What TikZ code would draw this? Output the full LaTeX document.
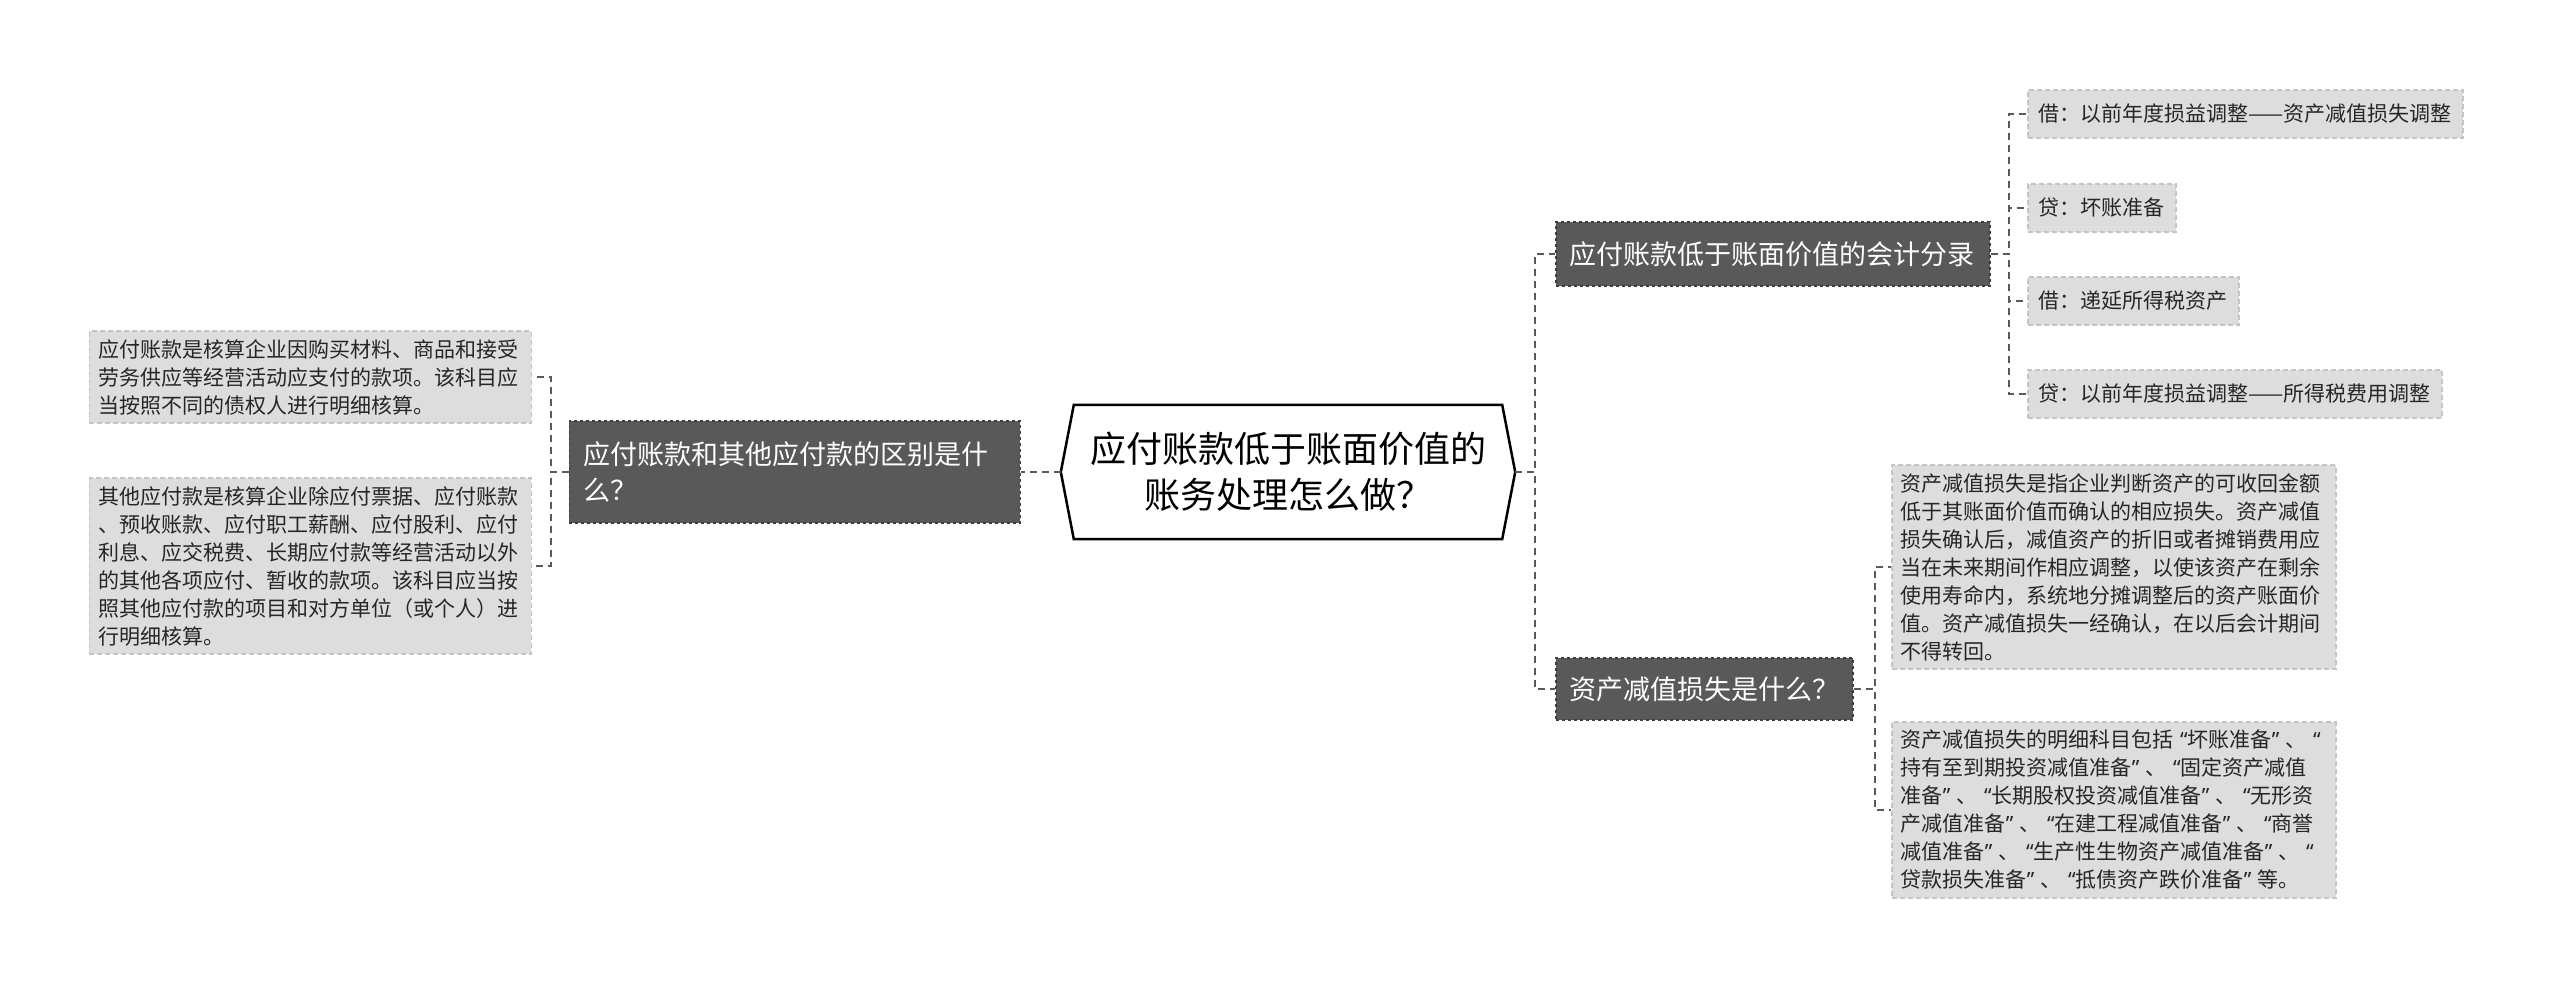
\documentclass[tikz,border=0pt]{standalone}
\usepackage{fontspec}
\newfontfamily\cjk{Noto Sans CJK SC}
\newfontfamily\latin{Noto Sans}
\newcommand\oquo{\makebox[14pt][r]{\latin “}}
\newcommand\cquo{\makebox[14pt][l]{\latin ”}}

\definecolor{branchgray}{HTML}{595959}
\definecolor{branchline}{HTML}{3F3F3F}
\definecolor{leafgray}{HTML}{DDDDDD}
\definecolor{leafline}{HTML}{C4C4C4}
\definecolor{linkgray}{HTML}{5A5A5A}

\begin{document}
\begin{tikzpicture}[x=1pt, y=-1pt,
        rootbox/.style={font=\cjk\fontsize{36}{46}\selectfont, align=center,
                minimum width=428pt, minimum height=134pt, inner sep=0pt},
        rootline/.style={draw=black, line width=2.5pt, fill=white},
        branch/.style={draw=branchline, dashed, line width=1.5pt, fill=branchgray,
                text=white, font=\cjk\fontsize{27}{36}\selectfont, align=left,
                inner xsep=14pt, inner ysep=10pt},
        leaf/.style={draw=leafline, dash pattern=on 5pt off 3pt, line width=1.5pt,
                fill=leafgray, text=black!85, font=\cjk\fontsize{21}{28}\selectfont,
                align=left, inner xsep=9pt, inner ysep=8pt},
        link/.style={draw=linkgray, line width=2pt, dash pattern=on 7pt off 5pt}
    ]
    \useasboundingbox (0,0) rectangle (2560,993);

    % root
    \node[rootbox] (root) at (1288,472) {};
    \draw[rootline] ([xshift=-13pt]root.west) -- (root.north west) -- (root.north east)
        -- ([xshift=13pt]root.east) -- (root.south east) -- (root.south west) -- cycle;
    \node[rootbox] at (root.center) {应付账款低于账面价值的\\账务处理怎么做？};

    % branches
    \node[branch, text width=423pt, minimum height=102pt, anchor=east] (diff) at (1021,472)
        {应付账款和其他应付款的区别是什\\么？};
    \node[branch, text width=406pt, minimum height=64pt, anchor=west] (acct) at (1555,254)
        {应付账款低于账面价值的会计分录};
    \node[branch, text width=269pt, minimum height=62pt, anchor=west] (loss) at (1555,689)
        {资产减值损失是什么？};

    % left leaves
    \node[leaf, text width=424pt, anchor=east] (def1) at (532,377)
        {应付账款是核算企业因购买材料、商品和接受\\劳务供应等经营活动应支付的款项。该科目应\\当按照不同的债权人进行明细核算。};
    \node[leaf, text width=424pt, anchor=east] (def2) at (532,566)
        {其他应付款是核算企业除应付票据、应付账款\\、预收账款、应付职工薪酬、应付股利、应付\\利息、应交税费、长期应付款等经营活动以外\\的其他各项应付、暂收的款项。该科目应当按\\照其他应付款的项目和对方单位（或个人）进\\行明细核算。};

    % entries
    \node[leaf, inner xsep=11pt, minimum height=48pt, anchor=west] (ent1) at (2027,114) {借：以前年度损益调整——资产减值损失调整};
    \node[leaf, inner xsep=11pt, minimum height=48pt, anchor=west] (ent2) at (2027,208) {贷：坏账准备};
    \node[leaf, inner xsep=11pt, minimum height=48pt, anchor=west] (ent3) at (2027,301) {借：递延所得税资产};
    \node[leaf, inner xsep=11pt, minimum height=48pt, anchor=west] (ent4) at (2027,394) {贷：以前年度损益调整——所得税费用调整};

    % loss leaves
    \node[leaf, text width=426pt, anchor=west] (loss1) at (1891,567)
        {资产减值损失是指企业判断资产的可收回金额\\低于其账面价值而确认的相应损失。资产减值\\损失确认后，减值资产的折旧或者摊销费用应\\当在未来期间作相应调整，以使该资产在剩余\\使用寿命内，系统地分摊调整后的资产账面价\\值。资产减值损失一经确认，在以后会计期间\\不得转回。};
    \node[leaf, text width=426pt, anchor=west] (loss2) at (1891,810)
        {资产减值损失的明细科目包括\oquo 坏账准备\cquo 、\oquo\\
         持有至到期投资减值准备\cquo 、\oquo 固定资产减值\\
         准备\cquo 、\oquo 长期股权投资减值准备\cquo 、\oquo 无形资\\
         产减值准备\cquo 、\oquo 在建工程减值准备\cquo 、\oquo 商誉\\
         减值准备\cquo 、\oquo 生产性生物资产减值准备\cquo 、\oquo\\
         贷款损失准备\cquo 、\oquo 抵债资产跌价准备\cquo 等。};

    % links
    \draw[link] ([xshift=-13pt]root.west) -- (diff.east);
    \foreach \n in {def1, def2}
        \draw[link] (diff.west) -- ++(-18,0) |- (\n.east);
    \foreach \n in {acct, loss}
        \draw[link] ([xshift=13pt]root.east) -- ++(20,0) |- (\n.west);
    \foreach \n in {ent1, ent2, ent3, ent4}
        \draw[link] (acct.east) -- ++(18,0) |- (\n.west);
    \foreach \n in {loss1, loss2}
        \draw[link] (loss.east) -- ++(21,0) |- (\n.west);

\end{tikzpicture}
\end{document}
